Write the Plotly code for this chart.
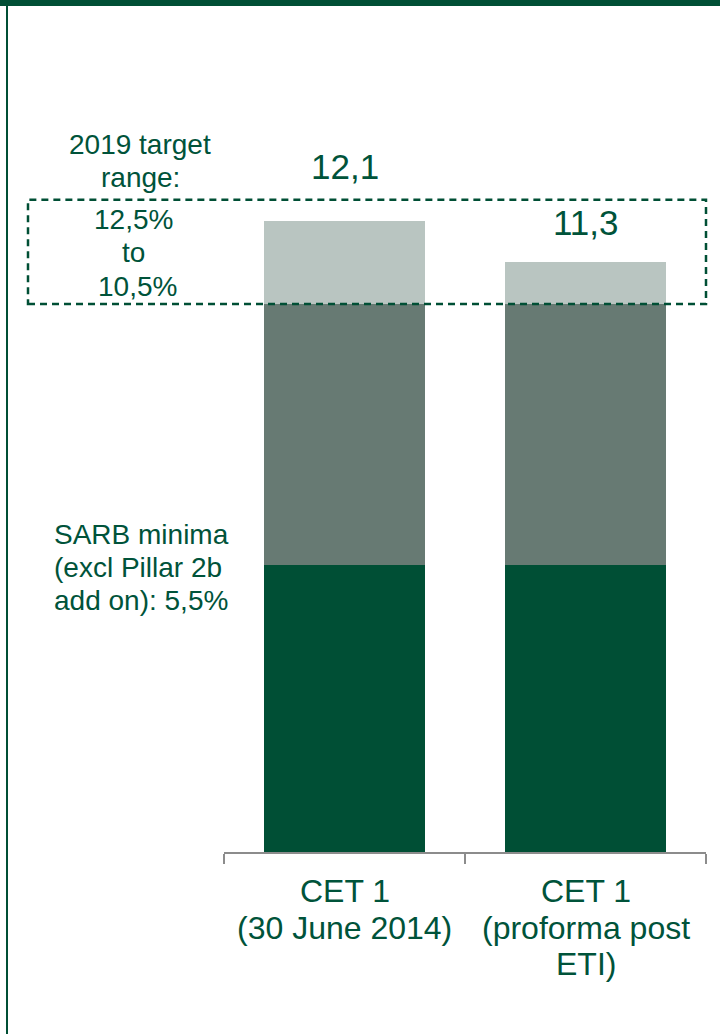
import plotly.graph_objects as go

# ---- data -------------------------------------------------------------
categories = ["CET 1 (30 June 2014)", "CET 1 (proforma post ETI)"]
category_lines = [["CET 1", "(30 June 2014)"], ["CET 1", "(proforma post", "ETI)"]]
sarb_minimum = [5.5, 5.5]          # SARB minima (excl Pillar 2b add on)
target_low = 10.5                  # bottom of 2019 target range
target_high = 12.5                 # top of 2019 target range
cet1_total = [12.1, 11.3]          # total CET 1 ratio
value_labels = ["12,1", "11,3"]

# segments of each stacked bar
seg_min = sarb_minimum
seg_to_target = [target_low - m for m in sarb_minimum]
seg_above = [round(t - target_low, 2) for t in cet1_total]

# ---- style ------------------------------------------------------------
DARK = "#004F35"
MID = "#677A73"
LIGHT = "#B9C5C1"
TEXT = "#00533A"
FONT = "Liberation Sans, Arial, sans-serif"

W, H = 720, 1034
ML, MR, MT, MB = 224, 14, 17, 182
PW, PH = W - ML - MR, H - MT - MB


def xp(px):
    return (px - ML) / PW


def yp(py):
    return (H - MB - py) / PH


fig = go.Figure()
for vals, col in [(seg_min, DARK), (seg_to_target, MID), (seg_above, LIGHT)]:
    fig.add_trace(go.Bar(
        x=categories, y=vals, width=0.665,
        marker=dict(color=col, line=dict(width=0)),
        hoverinfo="skip", showlegend=False,
    ))

annotations = []


def add_line(text, x, baseline, size, xanchor="center", xref="paper"):
    annotations.append(dict(
        text=text, x=x, xref=xref, y=yp(baseline - 0.347 * size), yref="paper",
        xanchor=xanchor, yanchor="middle", showarrow=False, borderpad=0,
        font=dict(family=FONT, size=size, color=TEXT),
    ))


# value labels above the bars
label_shift = [34, 19]
for cat, tot, lab, sh in zip(categories, cet1_total, value_labels, label_shift):
    annotations.append(dict(
        text=lab, x=cat, y=tot, xref="x", yref="y", yanchor="bottom",
        yshift=sh, showarrow=False, borderpad=0,
        font=dict(family=FONT, size=35, color=TEXT),
    ))

# category labels under the axis
for cat, lines in zip(categories, category_lines):
    for i, ln in enumerate(lines):
        add_line(ln, cat, 902.5 + 36.2 * i, 32, xref="x")

# target range note
for txt, cx, base in [("2019 target", 140, 154), ("range:", 140, 187),
                      ("12,5%", 133, 229), ("to", 133, 262), ("10,5%", 137, 296)]:
    add_line(txt, xp(cx), base, 28)

# SARB minimum note
for i, txt in enumerate(["SARB minima", "(excl Pillar 2b", "add on): 5,5%"]):
    add_line(txt, xp(53), 544 + 33 * i, 28, xanchor="left")

shapes = [
    # dashed box marking the target range
    dict(type="rect", xref="paper", yref="y", x0=xp(28), x1=xp(706),
         y0=target_low, y1=target_high,
         line=dict(color=DARK, width=2.5, dash="7px,5px"), fillcolor="rgba(0,0,0,0)"),
    # frame: top band and left rule
    dict(type="rect", xref="paper", yref="paper", x0=xp(0), x1=xp(W),
         y0=yp(6), y1=yp(0), line=dict(width=0), fillcolor=DARK),
    dict(type="line", xref="paper", yref="paper", x0=xp(7), x1=xp(7),
         y0=yp(6), y1=yp(H), line=dict(color=DARK, width=2)),
]

fig.update_layout(
    width=W, height=H, barmode="stack", bargap=0,
    margin=dict(l=ML, r=MR, t=MT, b=MB),
    paper_bgcolor="white", plot_bgcolor="white",
    annotations=annotations, shapes=shapes,
    xaxis=dict(type="category", range=[-0.5, 1.5], showgrid=False,
               showline=True, linecolor="#8C8C8C", linewidth=2,
               ticks="outside", tickson="boundaries", ticklen=10,
               tickcolor="#8C8C8C", tickwidth=2, showticklabels=False),
    yaxis=dict(range=[0, 16], visible=False, showgrid=False, zeroline=False),
)

fig.write_html("out.html")
